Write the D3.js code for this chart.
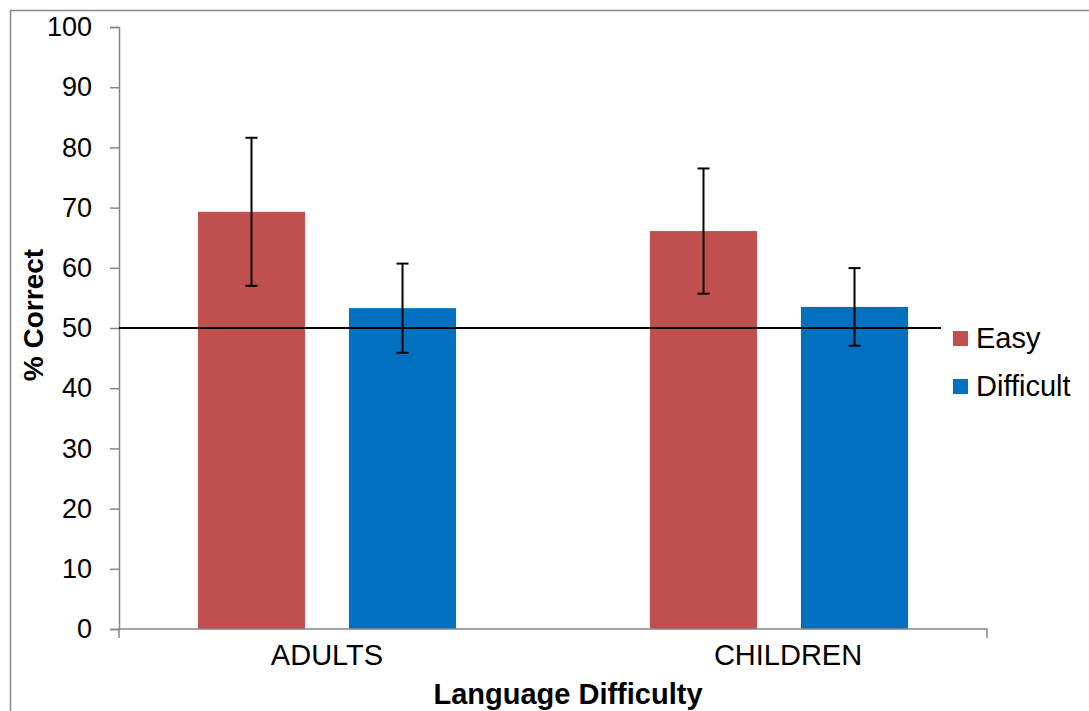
<!DOCTYPE html>
<html>
<head>
<meta charset="utf-8">
<script src="https://cdn.jsdelivr.net/npm/d3@7"></script>
<style>
  html, body { margin: 0; padding: 0; background: #fff; }
  svg { display: block; font-family: "Liberation Sans", Arial, sans-serif; }
</style>
</head>
<body>
<svg id="chart" width="1089" height="711"></svg>
<script>
// ---- data ----
const groups = ["ADULTS", "CHILDREN"];
const series = ["Easy", "Difficult"];
const easyValues = [69.3, 66.1];
const difficultValues = [53.3, 53.5];
const easyErrors = [12.3, 10.4];
const difficultErrors = [7.4, 6.45];
const yTicks = [0, 10, 20, 30, 40, 50, 60, 70, 80, 90, 100];
const referenceLine = 50;
const colors = ["#C0504D", "#0070C0"];
const xTitle = "Language Difficulty";
const yTitle = "% Correct";

// ---- layout ----
const svg = d3.select("#chart");
const plotLeft = 119, plotRight = 987, plotTop = 27, plotBottom = 629;
const axisColor = "#868686";
const labelNudge = [0, 9];

// outer border
svg.append("rect").attr("x", 10.5).attr("y", 10.5).attr("width", 1089).attr("height", 711)
  .attr("fill", "none").attr("stroke", "#8a8a8a").attr("stroke-width", 1.5);

const y = d3.scaleLinear().domain([0, 100]).range([plotBottom, plotTop]);
const x0 = d3.scaleBand().domain(groups).range([101, 1005]).padding(0);
const x1 = d3.scaleBand().domain(series).range([0, x0.bandwidth()])
  .paddingInner(0.291).paddingOuter(0.642);

const rows = groups.map((g, i) => ({
  group: g,
  items: [
    { s: series[0], v: easyValues[i], e: easyErrors[i], c: colors[0] },
    { s: series[1], v: difficultValues[i], e: difficultErrors[i], c: colors[1] }
  ]
}));

// bars
const gBars = svg.append("g");
rows.forEach(r => {
  r.items.forEach(it => {
    gBars.append("rect")
      .attr("x", x0(r.group) + x1(it.s))
      .attr("y", y(it.v))
      .attr("width", x1.bandwidth())
      .attr("height", y(0) - y(it.v))
      .attr("fill", it.c);
  });
});

// y axis
const yAxis = d3.axisLeft(y).tickValues(yTicks).tickSize(9).tickPadding(18);
const ya = svg.append("g").attr("transform", `translate(${plotLeft},0)`).call(yAxis);
ya.select(".domain").attr("stroke", axisColor).attr("stroke-width", 1.5);
ya.selectAll(".tick line").attr("stroke", axisColor).attr("stroke-width", 1.5);
ya.selectAll(".tick text").attr("fill", "#000").style("font-size", "27px")
  .attr("font-family", "Liberation Sans, Arial, sans-serif");

// x axis line with end ticks
const xa = svg.append("g");
xa.append("path")
  .attr("d", `M${plotLeft},${plotBottom + 9}V${plotBottom}H${plotRight}V${plotBottom + 9}`)
  .attr("fill", "none").attr("stroke", axisColor).attr("stroke-width", 1.5);

// category labels
groups.forEach((gn, i) => {
  svg.append("text")
    .attr("x", x0(gn) + x0.bandwidth() / 2 + labelNudge[i])
    .attr("y", 665)
    .attr("text-anchor", "middle")
    .style("font-size", "29px")
    .text(gn);
});

// reference line at 50
svg.append("line")
  .attr("x1", plotLeft).attr("x2", 941)
  .attr("y1", y(referenceLine)).attr("y2", y(referenceLine))
  .attr("stroke", "#000").attr("stroke-width", 2);

// error bars
rows.forEach(r => {
  r.items.forEach(it => {
    const cx = x0(r.group) + x1(it.s) + x1.bandwidth() / 2;
    const eg = svg.append("g").attr("stroke", "#000").attr("stroke-width", 2);
    eg.append("line").attr("x1", cx).attr("x2", cx).attr("y1", y(it.v + it.e)).attr("y2", y(it.v - it.e));
    eg.append("line").attr("x1", cx - 6).attr("x2", cx + 6).attr("y1", y(it.v + it.e)).attr("y2", y(it.v + it.e));
    eg.append("line").attr("x1", cx - 6).attr("x2", cx + 6).attr("y1", y(it.v - it.e)).attr("y2", y(it.v - it.e));
  });
});

// axis titles
svg.append("text")
  .attr("x", 568).attr("y", 704)
  .attr("text-anchor", "middle")
  .style("font-size", "29px").style("font-weight", "bold")
  .text(xTitle);
svg.append("text")
  .attr("transform", "translate(43,315) rotate(-90)")
  .attr("text-anchor", "middle")
  .style("font-size", "28px").style("font-weight", "bold")
  .text(yTitle);

// legend
const lg = svg.append("g");
series.forEach((s, i) => {
  const ly = 331 + i * 48;
  lg.append("rect").attr("x", 953).attr("y", ly).attr("width", 15).attr("height", 15).attr("fill", colors[i]);
  lg.append("text").attr("x", 976).attr("y", ly + 17).style("font-size", "29px").text(s);
});
</script>
</body>
</html>
